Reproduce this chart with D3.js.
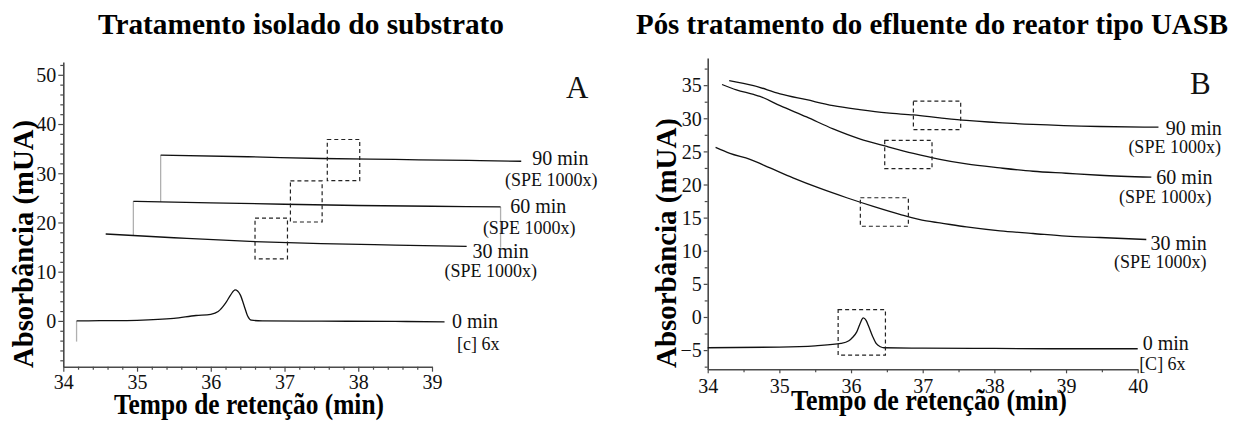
<!DOCTYPE html>
<html><head><meta charset="utf-8">
<script src="https://cdn.jsdelivr.net/npm/d3@7"></script>
<style>
html,body{margin:0;padding:0;background:#fff;}
text{font-family:"Liberation Serif","Times New Roman",serif;}
</style></head>
<body>
<svg id="c" width="1238" height="423"></svg>
<script>
// ---------- DATA ----------
// Panel A (Tratamento isolado do substrato)
const a0_t  = [34.18,34.5,35.0,35.5,35.8,36.0,36.1,36.2,36.27,36.33,36.4,36.45,36.5,36.55,36.7,37.5,38.5,39.17];
const a0_v  = [0,0.05,0.13,0.5,1.1,1.35,1.9,3.6,5.3,6.3,5.3,3.2,1.0,0.15,0,-0.05,-0.1,-0.2];
const a30_t = [34.575,35.5,36.53,37.5,38.5,39.47];
const a30_v = [17.66,16.9,16.15,15.7,15.4,15.13];
const a60_t = [34.95,36.0,37.0,38.0,39.0,39.93];
const a60_v = [24.3,24.0,23.7,23.45,23.3,23.16];
const a90_t = [35.32,36.5,37.5,38.5,39.5,40.21];
const a90_v = [33.67,33.35,33.0,32.8,32.6,32.44];
// gray connector drops: time, from, to
const aDrop_t  = [34.18,34.95,35.32,39.93];
const aDrop_v0 = [0,24.3,33.67,23.16];
const aDrop_v1 = [-4.2,17.4,24.2,14.9];
// dashed boxes: t0,t1,v0,v1
const aBox_t0 = [36.60,37.08,37.58];
const aBox_t1 = [37.04,37.51,38.02];
const aBox_v0 = [12.6,20.1,28.5];
const aBox_v1 = [20.9,28.45,36.86];
const aTicksX = [34,35,36,37,38,39];
const aTicksY = [0,10,20,30,40,50];

// Panel B (Pós tratamento do efluente do reator tipo UASB)
const b0_t  = [34.0,35.0,35.5,35.86,35.97,36.02,36.08,36.13,36.17,36.21,36.24,36.3,36.35,36.41,36.46,37,38,39,40];
const b0_v  = [-4.65,-4.55,-4.35,-4.0,-3.6,-3.1,-2.25,-0.9,-0.15,-0.5,-1.25,-2.9,-4.0,-4.5,-4.65,-4.7,-4.75,-4.8,-4.8];
const b30_t = [34.11,34.31,34.59,34.87,35.19,35.57,35.94,36.31,36.68,37.05,37.24,37.61,38.08,38.54,39.0,39.47,40.12];
const b30_v = [25.6,24.7,23.8,22.5,21.0,19.4,18.0,16.7,15.5,14.5,14.2,13.6,13.0,12.6,12.2,12.0,11.7];
const b60_t = [34.20,34.40,34.64,34.73,35.01,35.38,35.75,36.12,36.50,36.87,37.24,37.61,38.08,38.54,39.0,39.47,40.19];
const b60_v = [35.1,34.3,33.6,33.3,31.9,30.2,28.4,26.9,25.75,24.7,23.8,23.1,22.5,22.0,21.7,21.4,21.1];
const b90_t = [34.30,34.64,35.01,35.38,35.75,36.12,36.50,36.87,37.24,37.61,38.54,39.47,40.29];
const b90_v = [35.7,34.94,33.7,32.8,31.9,31.3,30.8,30.5,30.07,29.67,29.07,28.76,28.66];
const bBox_t0 = [35.82,36.13,36.47,36.87];
const bBox_t1 = [36.48,36.80,37.13,37.53];
const bBox_v0 = [-5.75,13.7,22.4,28.3];
const bBox_v1 = [1.1,18.0,26.65,32.6];
const bTicksX = [34,35,36,37,38,39,40];
const bTicksY = [-5,0,5,10,15,20,25,30,35];

// Labels
const seriesNames = ["90 min","60 min","30 min","0 min"];
const subA = ["(SPE 1000x)","(SPE 1000x)","(SPE 1000x)","[c] 6x"];
const subB = ["(SPE 1000x)","(SPE 1000x)","(SPE 1000x)","[C] 6x"];
const titleA = "Tratamento isolado do substrato";
const titleB = "Pós tratamento do efluente do reator tipo UASB";
const xTitle = "Tempo de retenção (min)";
const yTitle = "Absorbância (mUA)";

// ---------- DRAW ----------
const svg = d3.select("#c");
const zip = (t,v)=>t.map((d,i)=>[d,v[i]]);

function panel(cfg){
  const g = svg.append("g");
  const x = d3.scaleLinear().domain(cfg.xd).range(cfg.xr);
  const y = d3.scaleLinear().domain(cfg.yd).range(cfg.yr);
  const axisCol = "#4a4a4a";
  const xMinor = d3.range(cfg.xd[0], cfg.xd[1]+1e-9, cfg.xMinorStep).filter(v=>!cfg.xTicks.some(t=>Math.abs(t-v)<1e-6));
  const yMinor = d3.range(Math.ceil(cfg.yd[0]/cfg.yMinorStep)*cfg.yMinorStep, cfg.yd[1]+1e-9, cfg.yMinorStep).filter(v=>!cfg.yTicks.some(t=>Math.abs(t-v)<1e-6));
  const gx = g.append("g").attr("transform",`translate(0,${cfg.yr[0]})`)
    .call(d3.axisBottom(x).tickValues(cfg.xTicks).tickSize(cfg.tick).tickSizeOuter(0).tickFormat(d3.format("d")));
  g.append("g").attr("transform",`translate(0,${cfg.yr[0]})`)
    .call(d3.axisBottom(x).tickValues(xMinor).tickSize(cfg.minorTick).tickSizeOuter(0).tickFormat(""))
    .call(s=>s.select(".domain").remove());
  const gy = g.append("g").attr("transform",`translate(${cfg.xr[0]},0)`)
    .call(d3.axisLeft(y).tickValues(cfg.yTicks).tickSize(cfg.tick).tickSizeOuter(0).tickFormat(d3.format("d")));
  g.append("g").attr("transform",`translate(${cfg.xr[0]},0)`)
    .call(d3.axisLeft(y).tickValues(yMinor).tickSize(cfg.minorTick).tickSizeOuter(0).tickFormat(""))
    .call(s=>s.select(".domain").remove());
  g.selectAll(".domain").attr("stroke",axisCol).attr("stroke-width",1.6);
  g.selectAll(".tick line").attr("stroke",axisCol).attr("stroke-width",1.2);
  gx.selectAll(".tick text").attr("font-size",20).attr("fill","#111")
    .attr("font-family","Liberation Serif").attr("dy",null).attr("y",cfg.xLabelDy);
  gy.selectAll(".tick text").attr("font-size",20).attr("fill","#111")
    .attr("font-family","Liberation Serif").attr("x",-(cfg.tick+2)).attr("dy","0.34em");

  const line = d3.line().x(d=>x(d[0])).y(d=>y(d[1])).curve(d3.curveMonotoneX);
  if(cfg.drops){
    cfg.drops.t.forEach((t,i)=>{
      g.append("line").attr("x1",x(t)).attr("x2",x(t)).attr("y1",y(cfg.drops.v0[i])).attr("y2",y(cfg.drops.v1[i]))
       .attr("stroke","#b0b0b0").attr("stroke-width",1.3);
    });
  }
  cfg.series.forEach(s=>{
    g.append("path").datum(s).attr("d",line).attr("fill","none").attr("stroke","#111").attr("stroke-width",1.3);
  });
  cfg.boxes.t0.forEach((t0,i)=>{
    const x0=x(t0), x1=x(cfg.boxes.t1[i]), y0=y(cfg.boxes.v1[i]), y1=y(cfg.boxes.v0[i]);
    g.append("rect").attr("x",x0).attr("y",y0).attr("width",x1-x0).attr("height",y1-y0)
     .attr("fill","none").attr("stroke","#222").attr("stroke-width",1.2).attr("stroke-dasharray","4,3");
  });
  cfg.labels.forEach((L,i)=>{
    g.append("text").attr("x",x(L[0])).attr("y",y(L[1])).attr("font-size",20).attr("fill","#111").text(seriesNames[i]);
    g.append("text").attr("x",x(L[2])).attr("y",y(L[3])).attr("font-size",18).attr("fill","#111").text(cfg.subs[i]);
  });
  g.append("text").attr("x",cfg.letter[0]).attr("y",cfg.letter[1]).attr("font-size",31).attr("fill","#111").text(cfg.letter[2]);
  g.append("text").attr("x",cfg.title[0]).attr("y",cfg.title[1]).attr("text-anchor","middle")
    .attr("font-size",30).attr("font-weight","bold").attr("textLength",cfg.title[2]).attr("lengthAdjust","spacingAndGlyphs").text(cfg.title[3]);
  g.append("text").attr("x",cfg.xt[0]).attr("y",cfg.xt[1]).attr("text-anchor","middle")
    .attr("font-size",29).attr("font-weight","bold").attr("textLength",cfg.xt[2]).attr("lengthAdjust","spacingAndGlyphs").text(xTitle);
  g.append("text").attr("transform",`translate(${cfg.yt[0]},${cfg.yt[1]}) rotate(-90)`).attr("text-anchor","middle")
    .attr("font-size",29).attr("font-weight","bold").attr("textLength",cfg.yt[2]).attr("lengthAdjust","spacingAndGlyphs").text(yTitle);
}

panel({
  xd:[34,39], xr:[63.3,432], yd:[-9.3,52.6], yr:[366.7,62],
  xTicks:aTicksX, yTicks:aTicksY, xMinorStep:0.2, yMinorStep:2, tick:5, minorTick:3, xLabelDy:22,
  series:[zip(a0_t,a0_v),zip(a30_t,a30_v),zip(a60_t,a60_v),zip(a90_t,a90_v)],
  drops:{t:aDrop_t,v0:aDrop_v0,v1:aDrop_v1},
  boxes:{t0:aBox_t0,t1:aBox_t1,v0:aBox_v0,v1:aBox_v1},
  labels:[[40.36,31.77,39.99,27.5],[40.06,22.0,39.69,17.7],[39.55,12.83,39.17,8.96],[39.27,-1.43,39.34,-5.9]],
  subs:subA,
  letter:[566,98,"A"],
  title:[301,34,406,titleA],
  xt:[249,414,270],
  yt:[33,244,248]
});
panel({
  xd:[34,40], xr:[707.7,1137.7], yd:[-7.9,39.1], yr:[369.3,58],
  xTicks:bTicksX, yTicks:bTicksY, xMinorStep:0.5, yMinorStep:2.5, tick:4, minorTick:3, xLabelDy:24,
  series:[zip(b0_t,b0_v),zip(b30_t,b30_v),zip(b60_t,b60_v),zip(b90_t,b90_v)],
  drops:null,
  boxes:{t0:bBox_t0,t1:bBox_t1,v0:bBox_v0,v1:bBox_v1},
  labels:[[40.39,27.4,39.87,24.7],[40.26,20.1,39.74,17.15],[40.18,10.06,39.67,7.35],[40.07,-5.03,40.02,-8.04]],
  subs:subB,
  letter:[1190,94,"B"],
  title:[932,34,592,titleB],
  xt:[929,410,276],
  yt:[676,243,250]
});
</script>
</body></html>
